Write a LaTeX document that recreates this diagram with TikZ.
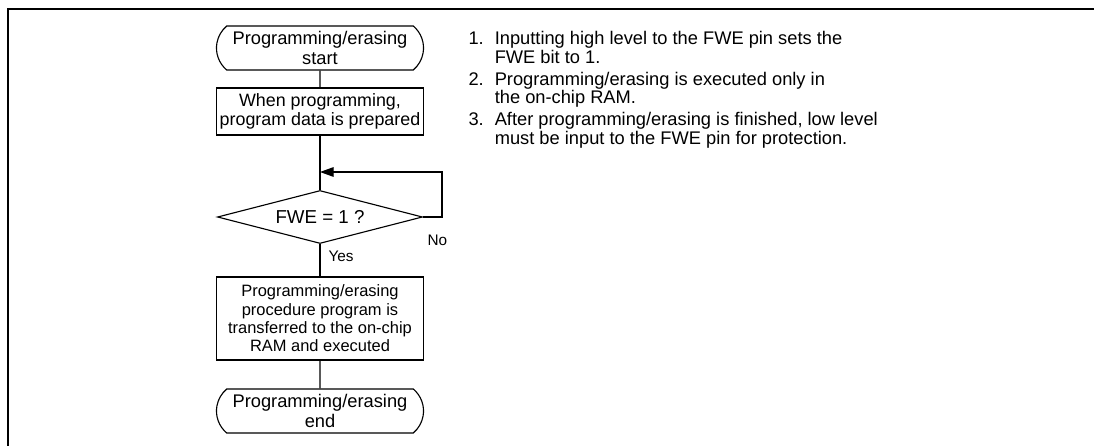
\documentclass[tikz,border=0pt]{standalone}
\usepackage{fontspec}
\setmainfont{Liberation Sans}
\usepackage{tikz}
\usetikzlibrary{
  shapes.geometric, shapes.misc,
  arrows.meta,
  positioning, calc
}

\begin{document}
\begin{tikzpicture}[
  x=0.025cm, y=-0.025cm,
  line width=0.8pt,
  %--- flowchart shapes ---
  terminal/.style={
    draw, rounded rectangle, rounded rectangle arc length=100,
    minimum width=5.175cm, minimum height=1.1cm,
    inner sep=0pt, align=center,
    font=\fontsize{13}{14.2}\selectfont
  },
  procbox/.style={
    draw, rectangle,
    minimum width=5.175cm,
    inner sep=0pt, align=center,
    font=\fontsize{12.7}{13.6}\selectfont
  },
  decision/.style={
    draw, diamond, aspect=4,
    minimum width=5.125cm, minimum height=1.325cm,
    inner sep=0pt, align=center,
    font=\fontsize{13.3}{14.2}\selectfont
  },
  %--- connectors and texts ---
  flow/.style={
    -{Triangle[length=3.4mm, width=2.4mm]}
  },
  lbl/.style={
    font=\fontsize{10.9}{12}\selectfont, inner sep=0pt
  },
  note/.style={
    font=\fontsize{13}{13.16}\selectfont, inner sep=0pt, align=left
  }
]

\useasboundingbox (0,0) rectangle (1094,446);

%------------------------------------------------------------------
%  Frame (top and left rule)
%------------------------------------------------------------------
\draw[line width=2pt] (1094,9) -- (8,9) -- (8,446);

%------------------------------------------------------------------
%  Flowchart nodes (top to bottom)
%------------------------------------------------------------------
\node[terminal] (start) at (320,48) {Programming/erasing\\start};
\node[procbox, minimum height=1.175cm] (prep) at (320,111.5)
  {When programming,\\program data is prepared};
\node[decision] (fwe) at (320,217) {FWE = 1 ?};
\node[procbox, minimum height=2.075cm,
      font=\fontsize{11.7}{13}\selectfont] (xfer) at (320,318.5)
  {Programming/erasing\\procedure program is\\transferred to the on-chip\\RAM and executed};
\node[terminal] (stop) at (320,411) {Programming/erasing\\end};

%------------------------------------------------------------------
%  Connectors
%------------------------------------------------------------------
\coordinate (merge)  at (320,172);
\coordinate (noturn) at (442,172);

\draw (start) -- (prep);
\draw (prep) -- (fwe);
\draw[flow] (fwe.east) -| (noturn) -- (merge);
\draw (fwe) -- (xfer);
\draw (xfer) -- (stop);

\node[lbl, anchor=base west] (nolbl)  at (427,246) {No};
\node[lbl, anchor=base west] (yeslbl) at (328,262) {Yes};

%------------------------------------------------------------------
%  Notes
%------------------------------------------------------------------
\node[note, anchor=base west] (notes) at (468,45)
  {%
    \begin{tabular}[t]{@{}l@{\hspace{7.8pt}}l@{}}
      1. & Inputting high level to the FWE pin sets the\\
         & FWE bit to 1.\\[1.8pt]
      2. & Programming/erasing is executed only in\\
         & the on-chip RAM.\\[1.8pt]
      3. & After programming/erasing is finished, low level\\
         & must be input to the FWE pin for protection.
    \end{tabular}%
  };

\end{tikzpicture}
\end{document}
